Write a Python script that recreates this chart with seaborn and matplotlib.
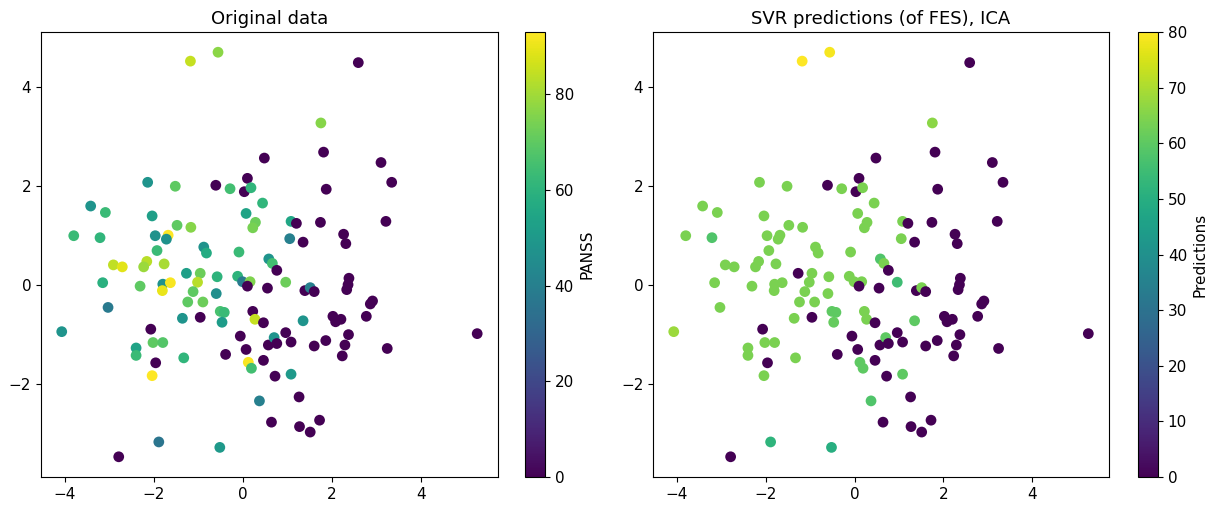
import matplotlib
matplotlib.use('Agg')
import matplotlib.pyplot as plt
import numpy as np
import pandas as pd
import seaborn as sns

# Component scores (x, y), true PANSS and SVR predictions
comp_x = [-1.18, -0.56, 0.48, 0.10, -0.61, 0.03, -0.29, 0.18, -2.14, -1.52,
          -3.42, -3.09, -2.04, 0.44, 0.07, 0.28, 0.22, -1.48, -1.17, -3.80,
          -3.21, -1.97, -1.68, -1.72, -0.88, -0.82, -1.93, -0.09, 0.58, 0.66,
          0.76, -2.91, -2.71, -2.16, -2.23, -1.77, -1.27, -0.96, -3.15, -2.31,
          -1.80, -1.63, -1.81, -1.02, -1.12, -0.58, -0.12, -0.01, 0.16, 0.10,
          0.55, 0.96, -0.60, -1.24, -0.90, -3.03, -1.36, -0.96, -0.51, -0.42,
          -0.47, 0.22, 0.27, 0.46, -4.07, -2.07, -2.02, -1.80, -2.40, -2.40,
          -1.96, -1.33, -2.04, -0.06, 0.07, -0.39, 0.57, 0.70, 0.46, 0.12,
          0.19, 0.72, 0.37, 0.64, -1.89, -0.52, -2.79, 1.87, 1.08, 1.20,
          1.74, 1.05, 1.35, 2.26, 2.31, 1.39, 1.51, 1.60, 2.38, 2.36,
          2.33, 2.91, 2.86, 2.77, 2.02, 2.08, 2.20, 1.35, 0.96, 1.08,
          0.76, 1.60, 1.86, 2.37, 2.29, 2.23, 3.24, 5.26, 1.08, 1.26,
          1.27, 1.51, 1.72, 2.59, 1.75, 1.81, 3.10, 3.34, 3.21]
comp_y = [4.53, 4.71, 2.57, 2.16, 2.02, 1.89, 1.95, 1.97, 2.08, 2.00,
          1.60, 1.47, 1.40, 1.66, 1.45, 1.27, 1.16, 1.21, 1.17, 1.00,
          0.96, 1.00, 1.01, 0.93, 0.77, 0.65, 0.70, 0.67, 0.53, 0.44,
          0.30, 0.41, 0.37, 0.48, 0.37, 0.43, 0.24, 0.24, 0.05, -0.02,
          0.02, 0.05, -0.11, 0.06, -0.13, 0.17, 0.18, 0.07, 0.07, -0.02,
          -0.06, 0.06, -0.17, -0.34, -0.34, -0.45, -0.67, -0.65, -0.53, -0.55,
          -0.75, -0.53, -0.69, -0.76, -0.94, -0.89, -1.16, -1.16, -1.27, -1.42,
          -1.57, -1.47, -1.83, -1.03, -1.30, -1.40, -1.21, -1.06, -1.52, -1.56,
          -1.68, -1.84, -2.34, -2.77, -3.17, -3.28, -3.47, 1.94, 1.29, 1.25,
          1.27, 0.94, 0.87, 1.03, 0.84, -0.11, -0.05, -0.13, 0.14, 0.01,
          -0.09, -0.32, -0.38, -0.63, -0.63, -0.74, -0.69, -0.72, -0.96, -1.15,
          -1.18, -1.23, -1.12, -1.00, -1.21, -1.43, -1.28, -0.98, -1.80, -2.26,
          -2.86, -2.97, -2.73, 4.50, 3.28, 2.69, 2.48, 2.08, 1.29]
panss = [85, 77, 0, 0, 0, 0, 65, 61, 48, 70,
         48, 63, 52, 61, 54, 72, 74, 70, 76, 63,
         61, 47, 93, 47, 47, 57, 63, 63, 48, 65,
         0, 84, 89, 83, 79, 81, 52, 72, 59, 70,
         47, 92, 90, 83, 70, 60, 60, 38, 75, 0,
         0, 72, 46, 70, 72, 38, 48, 0, 66, 63,
         51, 0, 85, 0, 48, 0, 70, 68, 54, 63,
         0, 61, 93, 0, 0, 0, 0, 48, 0, 92,
         65, 0, 40, 0, 36, 50, 0, 0, 55, 0,
         0, 40, 0, 0, 0, 0, 40, 0, 0, 0,
         0, 0, 0, 0, 0, 0, 0, 48, 0, 0,
         0, 0, 0, 0, 0, 0, 0, 0, 50, 0,
         0, 0, 0, 0, 76, 0, 0, 0, 0]
predictions = [80, 79, 0, 0, 0, 0, 64, 64, 64, 64,
               64, 64, 64, 64, 64, 64, 64, 64, 64, 64,
               58, 64, 64, 64, 64, 64, 64, 64, 58, 64,
               0, 64, 64, 64, 64, 64, 0, 64, 64, 64,
               64, 64, 64, 64, 64, 64, 64, 64, 64, 0,
               0, 55, 64, 64, 64, 64, 64, 0, 60, 60,
               61, 64, 64, 0, 68, 0, 64, 64, 64, 64,
               0, 64, 64, 0, 0, 0, 0, 60, 0, 60,
               60, 0, 58, 0, 52, 50, 0, 0, 64, 0,
               0, 64, 0, 0, 0, 0, 64, 0, 0, 0,
               0, 0, 0, 0, 0, 0, 0, 60, 0, 0,
               0, 0, 0, 0, 0, 0, 0, 0, 60, 0,
               0, 0, 0, 0, 66, 0, 0, 0, 0]

df = pd.DataFrame({'x': comp_x, 'y': comp_y, 'PANSS': panss,
                   'Predictions': predictions})

fig = plt.figure(figsize=(12.19, 5.08), dpi=100)
ax1 = fig.add_axes([0.0336, 0.061, 0.3749, 0.876])
cax1 = fig.add_axes([0.4307, 0.061, 0.0164, 0.876])
ax2 = fig.add_axes([0.5357, 0.061, 0.3741, 0.876])
cax2 = fig.add_axes([0.9336, 0.061, 0.0164, 0.876])


def draw_panel(ax, cax, col, title, ticks):
    norm = plt.Normalize(df[col].min(), df[col].max())
    sns.scatterplot(data=df, x='x', y='y', hue=col, palette='viridis',
                    hue_norm=norm, s=60, linewidth=0, legend=False, ax=ax)
    ax.set_title(title, fontsize=13)
    ax.set_xlabel('')
    ax.set_ylabel('')
    ax.set_xticks([-4, -2, 0, 2, 4])
    ax.set_yticks([-2, 0, 2, 4])
    ax.tick_params(labelsize=11)
    sm = plt.cm.ScalarMappable(cmap='viridis', norm=norm)
    cb = fig.colorbar(sm, cax=cax, ticks=ticks)
    cb.set_label(col, fontsize=11)
    cb.ax.tick_params(labelsize=11)
    cb.outline.set_linewidth(0.8)


draw_panel(ax1, cax1, 'PANSS', 'Original data', [0, 20, 40, 60, 80])
draw_panel(ax2, cax2, 'Predictions', 'SVR predictions (of FES), ICA',
           [0, 10, 20, 30, 40, 50, 60, 70, 80])

fig.savefig('out.png')
